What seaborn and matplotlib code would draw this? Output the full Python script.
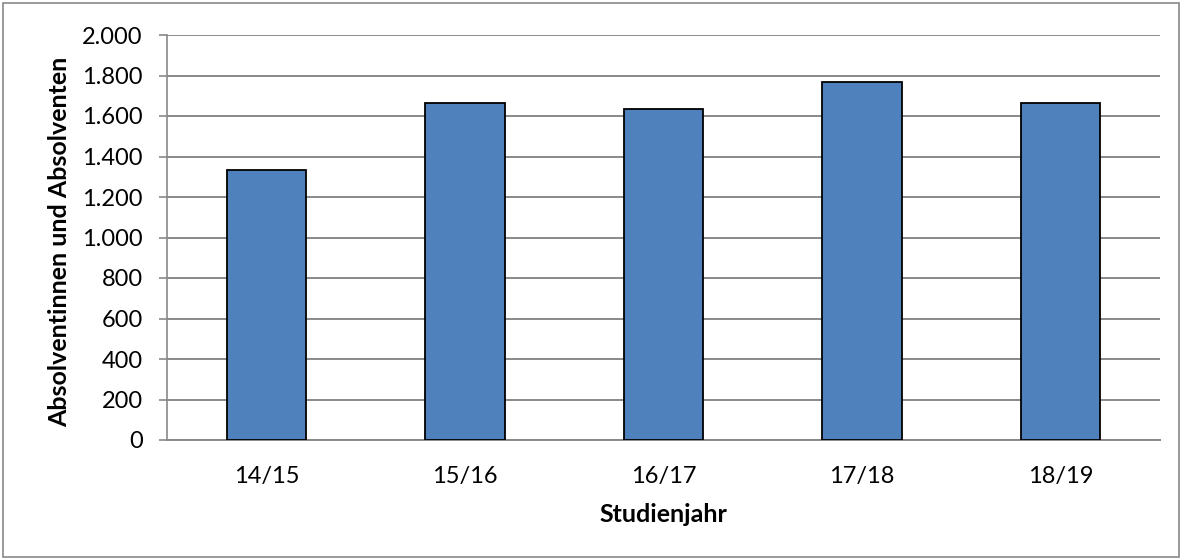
import numpy as np
import pandas as pd
import matplotlib
matplotlib.use('Agg')
import matplotlib.pyplot as plt
from matplotlib.ticker import FuncFormatter, MultipleLocator
from matplotlib.patches import Rectangle
import seaborn as sns

years = ['14/15', '15/16', '16/17', '17/18', '18/19']
graduates = [1333, 1664, 1635, 1767, 1662]

df = pd.DataFrame({'Studienjahr': years, 'Absolventen': graduates})

sns.set_theme(style='white')
plt.rcParams['font.family'] = ['Lato', 'DejaVu Sans']

W, H = 1183, 559
fig = plt.figure(figsize=(W / 100, H / 100), dpi=100)
ax = fig.add_axes([167 / W, 1 - 440 / H, (1160 - 167) / W, (440 - 35) / H])

sns.barplot(data=df, x='Studienjahr', y='Absolventen', ax=ax, color='#4F81BD',
            saturation=1, width=0.4, edgecolor='black', linewidth=1.3, zorder=3)

ax.set_xlim(-0.5, 4.5)
ax.set_ylim(0, 2000)
ax.yaxis.set_major_locator(MultipleLocator(200))
ax.yaxis.set_major_formatter(FuncFormatter(lambda v, p: f'{int(v):,}'.replace(',', '.')))
ax.grid(axis='y', color='#898989', linewidth=1.4, zorder=0)
ax.grid(axis='x', visible=False)

for side in ['top', 'right']:
    ax.spines[side].set_visible(False)
ax.spines['left'].set_color('#898989')
ax.spines['bottom'].set_color('#898989')
ax.spines['left'].set_linewidth(1.2)
ax.spines['bottom'].set_linewidth(1.4)

fs = 17
ax.tick_params(axis='y', which='major', left=True, length=5.5, width=1.2, color='#898989',
               labelsize=fs, pad=12, labelcolor='black')
ax.tick_params(axis='x', bottom=False, labelsize=fs, pad=13, labelcolor='black')

ax.set_xlabel('Studienjahr', fontsize=18, fontweight='bold', color='black')
ax.set_ylabel('Absolventinnen und Absolventen', fontsize=18, fontweight='bold', color='black')
ax.xaxis.set_label_coords(0.5, (440 - 515) / 405)
ax.yaxis.set_label_coords((60 - 167) / 993, 0.49)
ax.xaxis.label.set_va('center')
ax.yaxis.label.set_va('center')

fig.patches.append(Rectangle((3 / W, 2 / H), 1176 / W, 554 / H, transform=fig.transFigure,
                             fill=False, edgecolor='#898989', linewidth=1.2))

fig.savefig('out.png', dpi=100)
